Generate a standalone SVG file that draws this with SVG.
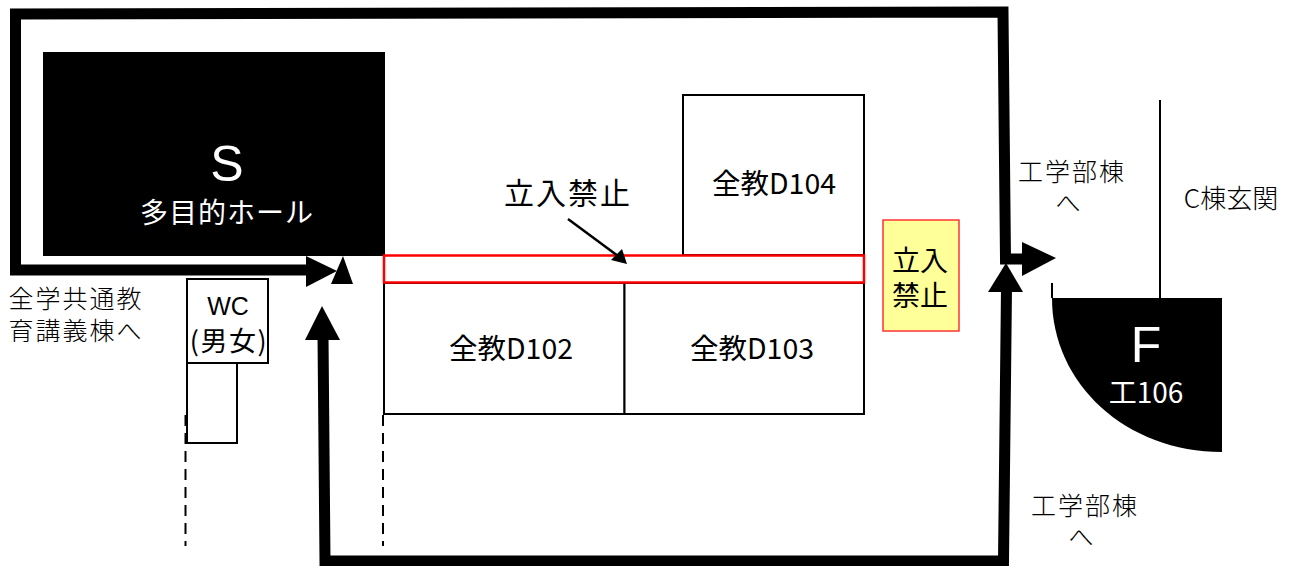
<svg xmlns="http://www.w3.org/2000/svg" width="1293" height="566" viewBox="0 0 1293 566">
<style>
text{font-family:"Noto Sans CJK JP","Liberation Sans",sans-serif;fill:#000;font-size:28.500px;text-anchor:middle}
.w{fill:#fff}
.latin{font-family:"Liberation Sans","Noto Sans CJK JP",sans-serif}
.room{fill:#fff;stroke:#000;stroke-width:2}
.route{fill:none;stroke:#000;stroke-width:11}
.thin{fill:none;stroke:#000;stroke-width:2}
.dash{fill:none;stroke:#000;stroke-width:2;stroke-dasharray:11 7}
.label{font-size:25px;letter-spacing:2px;font-weight:300}
</style>
<rect width="1293" height="566" fill="#fff"/>
<g id="node-s">
<rect x="43" y="52" width="342" height="204"/>
<text class="w latin" x="227" y="181" style="font-size:50px">S</text>
<text class="w" x="227" y="223" style="font-size:28px;letter-spacing:1px">多目的ホール</text>
</g>
<g id="node-wc-lower"><rect class="room" x="187" y="363" width="50" height="80"/></g>
<g id="node-wc">
<rect class="room" x="187" y="279" width="81" height="84"/>
<text class="latin" x="228" y="315" style="font-size:25px">WC</text>
<text x="229" y="351" style="font-size:27px;letter-spacing:1.500px">(男女)</text>
</g>
<g id="node-d104">
<rect class="room" x="683" y="95" width="181" height="160"/>
<text x="774" y="194">全教D104</text>
</g>
<g id="node-d102">
<rect class="room" x="384" y="283" width="240.500" height="131"/>
<text x="511" y="359">全教D102</text>
</g>
<g id="node-d103">
<rect class="room" x="624.500" y="283" width="239.500" height="131"/>
<text x="752" y="359">全教D103</text>
</g>
<g id="node-restricted-corridor">
<rect x="384" y="255.500" width="480" height="27" fill="#fff" stroke="#f00" stroke-width="2.500"/>
</g>
<g id="label-restricted"><text x="568" y="204" style="font-size:30px;letter-spacing:2px">立入禁止</text></g>
<g id="node-restricted-sign">
<rect x="883" y="220" width="76" height="111" fill="#ffff99" stroke="#f33" stroke-width="1.500"/>
<text x="920" y="271" style="font-size:28px">立入</text>
<text x="920" y="306" style="font-size:28px">禁止</text>
</g>
<g id="node-f">
<path class="thin" d="M1052 283V298"/>
<path class="thin" d="M1160 100V298"/>
<path d="M1052 298H1222V452C1126 452 1052 384 1052 298Z"/>
<text class="w latin" x="1146" y="362" style="font-size:50px">F</text>
<text class="w" x="1146" y="403" style="font-size:28px">工106</text>
</g>
<g id="label-west">
<text class="label"><tspan x="76" y="308">全学共通教</tspan><tspan x="76" y="340">育講義棟へ</tspan></text>
</g>
<g id="label-kogakubu-1">
<text class="label"><tspan x="1072" y="181">工学部棟</tspan><tspan x="1069" y="212">へ</tspan></text>
</g>
<g id="label-kogakubu-2">
<text class="label"><tspan x="1085" y="515">工学部棟</tspan><tspan x="1082" y="546">へ</tspan></text>
</g>
<g id="label-c"><text x="1231" y="208" style="font-size:26px;font-weight:300">C棟玄関</text></g>
<g id="connectors">
<path class="route" d="M310 270H15.500V14L1003 12L1005.500 259H1025"/>
<path class="route" d="M323 335L325 561H1003.500L1006.500 288"/>
<path d="M306 256L337 271L306 287Z"/>
<path d="M331 284H353L343 256Z"/>
<path d="M305 340H340L322 306Z"/>
<path d="M1022 242L1056 258L1022 276Z"/>
<path d="M988 292H1023L1006 263Z"/>
<path class="dash" d="M185.500 415V546"/>
<path class="dash" d="M383 415V546"/>
<path d="M568 219L618 256" fill="none" stroke="#000" stroke-width="2.500"/>
<path d="M611 260L622 249L627 264Z"/>
</g>
</svg>
